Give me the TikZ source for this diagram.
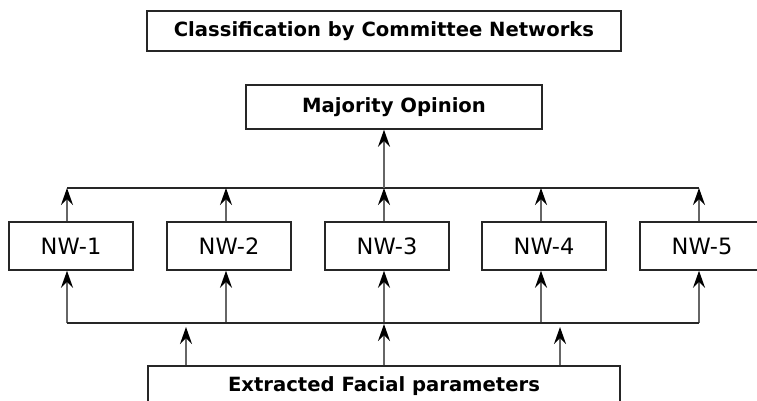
\documentclass[tikz,border=0pt]{standalone}
\usepackage{fontspec}
\setmainfont{DejaVu Sans}
\usetikzlibrary{arrows.meta}
\tikzset{
  box/.style={draw=black!85, line width=1.5pt, rectangle, inner sep=0pt, anchor=center},
  boldtxt/.style={font=\fontsize{19.6}{23}\selectfont\bfseries},
  nwtxt/.style={font=\fontsize{22.5}{26}\selectfont},
  arr/.style={-{Stealth[length=17pt,width=12pt,inset=6pt,color=black]}, line width=1.7pt, draw=black!60},
  bus/.style={line width=1.5pt, draw=black!85}
}
\begin{document}
\begin{tikzpicture}[x=1pt,y=-1pt]
\clip (0,0) rectangle (757,400);
\fill[white] (0,0) rectangle (757,400);
% boxes
\node[box, boldtxt, minimum width=474pt, minimum height=40pt] (title) at (384,31) {Classification by Committee Networks};
\node[box, boldtxt, minimum width=296pt, minimum height=44pt] (maj) at (394,107) {Majority Opinion};
\node[box, nwtxt, minimum width=124pt, minimum height=48pt] (nw1) at (71,246) {NW-1};
\node[box, nwtxt, minimum width=124pt, minimum height=48pt] (nw2) at (229,246) {NW-2};
\node[box, nwtxt, minimum width=124pt, minimum height=48pt] (nw3) at (387,246) {NW-3};
\node[box, nwtxt, minimum width=124pt, minimum height=48pt] (nw4) at (544,246) {NW-4};
\node[box, nwtxt, minimum width=124pt, minimum height=48pt] (nw5) at (702,246) {NW-5};
\node[box, boldtxt, minimum width=472pt, minimum height=40pt] (ext) at (384,386) {Extracted Facial parameters};
% bus coordinates
\coordinate (t1) at (67,188);
\coordinate (t2) at (226,188);
\coordinate (t3) at (384,188);
\coordinate (t4) at (541,188);
\coordinate (t5) at (699,188);
\coordinate (b1) at (67,323);
\coordinate (b2) at (226,323);
\coordinate (b3) at (384,323);
\coordinate (b4) at (541,323);
\coordinate (b5) at (699,323);
\coordinate (i1) at (186,327);
\coordinate (i2) at (384,324);
\coordinate (i3) at (560,327);
% top bus
\draw[bus] (t1) -- (t5);
\foreach \i in {1,...,5}{
  \draw[arr] (nw\i.north -| t\i) -- (t\i);
  \draw[arr] (b\i) -- (nw\i.south -| b\i);
}
\draw[arr] (t3) -- (maj.south -| t3);
% bottom bus
\draw[bus] (b1) -- (b5);
\foreach \i in {1,2,3}{
  \draw[arr] (ext.north -| i\i) -- (i\i);
}
\end{tikzpicture}
\end{document}
